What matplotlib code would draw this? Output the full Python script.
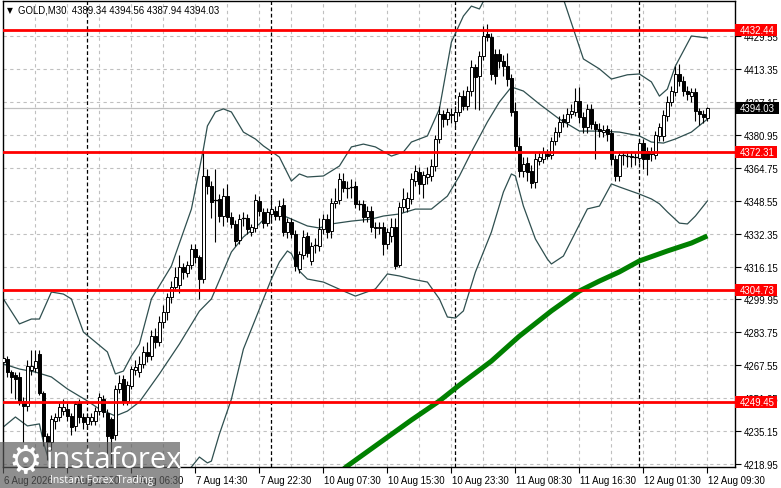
import matplotlib
matplotlib.use("Agg")
import matplotlib.pyplot as plt
import matplotlib.transforms as mtransforms
from matplotlib.patches import Rectangle

# ---------------- data ----------------
opens = [4269, 4270.5, 4264, 4263, 4262, 4250, 4247.5, 4265, 4266, 4273,
         4254, 4232.7, 4229.8, 4240, 4242, 4245, 4246, 4242.5, 4237.5, 4249.5,
         4242, 4238.5, 4240, 4240, 4245, 4251, 4244, 4241, 4233, 4256,
         4261, 4250, 4257.5, 4265, 4264, 4268, 4274, 4272, 4282, 4279,
         4289, 4294, 4301, 4306, 4307, 4316, 4313, 4317, 4325, 4321,
         4310, 4360.7, 4356, 4349, 4349.5, 4341, 4351, 4340.5, 4337, 4329,
         4340, 4340, 4333, 4335, 4348.5, 4343, 4337.5, 4342, 4343.5, 4341,
         4346.5, 4333, 4338, 4332, 4315, 4322, 4331, 4319, 4326.5, 4326,
         4334.6, 4339.5, 4333.5, 4347.4, 4349, 4358, 4355, 4355.5, 4355.8, 4347,
         4347, 4340.5, 4343.5, 4335.6, 4335, 4335.6, 4327.2, 4331, 4335.6, 4317,
         4345.4, 4345, 4349.4, 4358, 4362.7, 4356.8, 4360, 4360.5, 4365.6, 4378.9,
         4391.2, 4388.7, 4390.5, 4387.7, 4392.2, 4400, 4395.1, 4402.5, 4414.3, 4410,
         4419.7, 4430.6, 4429.1, 4420.7, 4420.7, 4417.3, 4414.8, 4408.9, 4392.7, 4375.5,
         4363.2, 4367, 4363.2, 4357.7, 4368, 4369, 4371.5, 4371, 4377.9, 4382.3,
         4388.7, 4387.3, 4391.2, 4392.2, 4397.6, 4389.7, 4384.8, 4393.7, 4386.3, 4384,
         4382.5, 4383.8, 4382, 4369.1, 4360.7, 4371, 4370.5, 4370.7, 4369.8, 4369.5,
         4376.9, 4373, 4371.5, 4371, 4380.4, 4380.4, 4390.2, 4397.1, 4402, 4410.9,
         4407.4, 4402.5, 4400, 4402, 4392.7, 4391.2, 4389.34]
highs = [4272, 4272, 4265, 4264, 4264, 4252, 4270, 4275, 4275, 4275,
         4255, 4234, 4243, 4244, 4249, 4251, 4249, 4244, 4250, 4251,
         4244, 4244, 4244, 4247, 4254, 4253, 4246, 4242, 4258, 4263,
         4263, 4260, 4267, 4270, 4272, 4277, 4279, 4285, 4286, 4292,
         4297, 4303, 4309, 4316, 4322, 4318, 4319, 4327, 4327, 4322,
         4372.5, 4364, 4358, 4364, 4352, 4355, 4357, 4343, 4339, 4342,
         4343, 4342, 4337, 4352, 4351, 4345, 4345, 4350, 4346, 4349,
         4350, 4340, 4340, 4334, 4324, 4334, 4333, 4328, 4330, 4340,
         4342, 4342, 4350, 4355, 4362, 4362, 4358, 4359, 4358, 4349,
         4349, 4346, 4346, 4338, 4338, 4338, 4335, 4340, 4340, 4348,
         4355, 4353, 4362, 4366, 4365, 4363, 4365, 4369, 4381, 4395,
         4393, 4394, 4394, 4395, 4402, 4403, 4405, 4418, 4416, 4422,
         4434.5, 4435.5, 4431, 4423, 4423, 4420, 4421, 4411, 4397, 4380,
         4370, 4370, 4366, 4372, 4373, 4375, 4374, 4380, 4385, 4390,
         4391, 4394, 4396, 4404, 4404.5, 4392, 4396, 4396, 4388, 4387,
         4386, 4386, 4384, 4371, 4373, 4373, 4373, 4373, 4372, 4379,
         4379, 4375, 4375, 4383, 4387, 4393, 4400, 4405, 4415, 4415.8,
         4410, 4405, 4404, 4404, 4394, 4393, 4394.56]
lows = [4266, 4262, 4254, 4251, 4248, 4230, 4245, 4263, 4264, 4253,
        4228, 4221, 4226, 4236, 4240, 4243, 4240, 4233, 4235, 4239,
        4236, 4236, 4238, 4238, 4243, 4242, 4222, 4219, 4231, 4254,
        4248, 4248, 4256, 4263, 4262, 4266, 4269, 4270, 4276, 4277,
        4286, 4290, 4298, 4304, 4303, 4310, 4311, 4315, 4318, 4300,
        4308, 4352, 4340, 4328, 4338, 4336, 4338, 4335, 4326, 4327,
        4336, 4332, 4331, 4333, 4341, 4335, 4336, 4338, 4339, 4339,
        4331, 4330, 4330, 4314, 4313, 4320, 4321, 4317, 4323, 4324,
        4332, 4330, 4330, 4345, 4347, 4353, 4350, 4350, 4345, 4344,
        4338, 4338, 4333, 4330, 4332, 4322, 4325, 4328, 4315, 4316,
        4343, 4343, 4347, 4356, 4352, 4350, 4357, 4358, 4363, 4377,
        4385, 4386, 4387, 4385, 4390, 4393, 4393, 4400, 4393.7, 4393,
        4418, 4427, 4408, 4406, 4414, 4410, 4405, 4390, 4373, 4360,
        4360, 4358, 4355, 4355, 4366, 4367, 4369, 4369, 4376, 4380,
        4385, 4385, 4389, 4390, 4387, 4382, 4382, 4384, 4369, 4380,
        4380, 4378, 4366, 4358, 4358, 4366, 4365, 4365, 4366, 4367,
        4364, 4361, 4368, 4369, 4378, 4378, 4388, 4395, 4400, 4405,
        4400, 4398, 4397, 4388, 4386, 4387, 4387.94]
closes = [4271, 4264, 4262, 4261, 4249.5, 4247.5, 4267, 4267, 4269.5, 4254,
          4232.7, 4229.8, 4241, 4242, 4247, 4247, 4242.5, 4237, 4248.5, 4242,
          4239.5, 4242, 4242, 4245, 4252, 4244.5, 4232.7, 4232, 4255.9, 4259,
          4250, 4258, 4265.7, 4266.5, 4268, 4274, 4272, 4282, 4279, 4289,
          4294, 4301, 4306, 4311, 4316, 4313.5, 4317, 4325, 4321, 4310,
          4360.7, 4355.8, 4348, 4349, 4341, 4351, 4340.5, 4337, 4328.7, 4339.5,
          4339.5, 4334.5, 4335.5, 4349, 4343.5, 4337.5, 4343, 4344.5, 4341, 4346,
          4333, 4338, 4332, 4316.4, 4322.3, 4330.7, 4323, 4326.3, 4326, 4334.6,
          4339.5, 4333, 4347.4, 4348.4, 4359, 4355, 4355.3, 4355.8, 4347, 4346.5,
          4340.5, 4343.5, 4335.6, 4335, 4335.6, 4327.2, 4333, 4335.6, 4316.4, 4345.4,
          4349.4, 4349.9, 4359.2, 4363, 4356.8, 4361, 4361.7, 4365.6, 4378.9, 4391.2,
          4388.7, 4392.2, 4391.2, 4392.2, 4400, 4395.1, 4402.5, 4414.3, 4409.4, 4419.7,
          4429.6, 4429.1, 4410.9, 4409.9, 4417.3, 4414.8, 4408.4, 4392.2, 4375.5, 4363.2,
          4366.6, 4362.7, 4357.3, 4369.1, 4370, 4372.5, 4370.5, 4377.9, 4382.3, 4387.3,
          4387.3, 4391.2, 4392.7, 4397.6, 4389.7, 4384.8, 4393.7, 4386.3, 4383.8, 4383,
          4383.5, 4381.4, 4369.1, 4360.7, 4371, 4370.5, 4370.6, 4369.8, 4369.5, 4376.9,
          4369.1, 4369.1, 4372.5, 4380.9, 4384.8, 4390.7, 4397.1, 4402.5, 4410.9, 4407.4,
          4402.5, 4401, 4402, 4392.7, 4391.2, 4389.7, 4394.03]

# Bollinger bands
ub_bars = [0, 4, 7, 9, 12, 15, 17, 20, 23, 26, 28, 30, 32, 34, 37, 42, 47, 50, 51, 53,
           55, 57, 60, 63, 65, 69, 72, 74, 76, 80, 84, 87, 90, 93, 97, 100, 102, 106, 109,
           112, 115, 117, 119, 121, 127, 134, 140, 145, 149, 152, 156, 159, 162, 164, 166,
           168, 172, 176]
ub_vals = [4300.2, 4287.9, 4290.3, 4290.3, 4303.6, 4302.6, 4300.2, 4283.9, 4279.0, 4274.1,
           4263.3, 4264.7, 4272.1, 4278.0, 4300.2, 4316.4, 4344.4, 4374.0, 4385.3, 4392.2,
           4393.7, 4392.2, 4382.3, 4378.9, 4375.5, 4370.0, 4358.2, 4361.7, 4360.2, 4360.7,
           4365.6, 4375.0, 4376.4, 4375.0, 4370.5, 4372.5, 4377.4, 4380.4, 4393.7, 4426.6,
           4439.4, 4444.3, 4442.9, 4450.3, 4462.0, 4460.0, 4447.8, 4418.3, 4413.4, 4408.4,
           4410.5, 4410.9, 4407.0, 4400.0, 4403.5, 4414.8, 4429.6, 4428.6]
mb_bars = [0, 4, 8, 12, 16, 21, 24, 28, 31, 34, 39, 44, 49, 52, 57, 60, 64, 67, 69, 72,
           76, 79, 82, 87, 92, 95, 99, 103, 107, 111, 114, 117, 121, 124, 127, 130, 134,
           139, 144, 149, 154, 159, 162, 165, 168, 172, 176]
mb_vals = [4268.2, 4265.7, 4264.2, 4261.8, 4255.9, 4250.0, 4246.0, 4242.6, 4245.0, 4249.5,
           4263.3, 4278.0, 4294.2, 4300.2, 4323.3, 4330.7, 4337.1, 4343.4, 4342.0, 4339.5,
           4336.1, 4335.1, 4337.1, 4338.5, 4339.5, 4341.0, 4342.0, 4344.4, 4344.4, 4350.8,
           4360.7, 4372.5, 4387.3, 4397.1, 4404.5, 4402.5, 4396.1, 4388.7, 4382.8, 4382.8,
           4382.3, 4380.4, 4377.4, 4376.9, 4378.9, 4382.3, 4388.7]
lb_bars = [0, 3, 6, 9, 10, 12, 19, 29, 42, 47, 49, 51, 52, 54, 57, 60, 64, 66, 67, 69,
           71, 72, 74, 76, 80, 85, 88, 93, 96, 99, 102, 106, 109, 111, 113, 115, 118, 122,
           125, 127, 128, 130, 133, 136, 137, 140, 146, 149, 152, 154, 159, 162, 164, 166,
           169, 171, 173, 176]
lb_vals = [4237.2, 4242.1, 4237.7, 4238.7, 4229.8, 4216.5, 4201.7, 4191.9, 4206.7, 4217.5,
           4222.4, 4219.5, 4220.4, 4233.7, 4250.9, 4275.5, 4295.2, 4305.1, 4310.0, 4318.4,
           4323.8, 4322.5, 4313.9, 4310.0, 4308.5, 4304.1, 4301.6, 4305.1, 4312.5, 4311.5,
           4310.0, 4308.5, 4300.2, 4291.3, 4290.8, 4294.3, 4313.4, 4333.1, 4352.8, 4361.7,
           4360.7, 4345.9, 4329.7, 4319.8, 4317.4, 4321.3, 4344.5, 4345.9, 4356.8, 4355.3,
           4351.8, 4349.4, 4347.0, 4343.0, 4337.5, 4337.1, 4341.0, 4348.4]
# moving average (green)
ma_bars = [82, 86, 94, 102, 109, 114, 122, 129, 137, 144, 149, 154, 159, 166, 172, 176]
ma_vals = [4211.6, 4218.0, 4229.3, 4240.6, 4250.0, 4257.8, 4269.6, 4281.9, 4294.3, 4304.1,
           4309.0, 4313.5, 4318.9, 4323.8, 4327.7, 4331.2]

x_tick_bars = [0, 16, 32, 48, 64, 80, 96, 112, 128, 144, 160, 176]
x_tick_labels = ["6 Aug 2026", "6 Aug 22:30", "7 Aug 06:30", "7 Aug 14:30", "7 Aug 22:30",
                 "10 Aug 07:30", "10 Aug 15:30", "10 Aug 23:30", "11 Aug 08:30",
                 "11 Aug 16:30", "12 Aug 01:30", "12 Aug 09:30"]
y_ticks = [4218.95, 4235.15, 4251.35, 4267.55, 4283.75, 4299.95, 4316.15, 4332.35,
           4348.55, 4364.75, 4380.95, 4397.15, 4413.35, 4429.55]
levels = [4432.44, 4372.31, 4304.73, 4249.45]
last_price = 4394.03
day_sep_bars = [21, 67, 113, 159]
title_text = "GOLD,M30  4389.34 4394.56 4387.94 4394.03"

# ---------------- figure ----------------
W, H = 781, 489
fig = plt.figure(figsize=(W / 100, H / 100), dpi=100)
fig.patch.set_facecolor("white")
ax = fig.add_axes([3 / W, 21 / H, 732 / W, 466 / H])
ax.set_facecolor("white")
ax.set_xlim(-0.1, 182.9)
ax.set_ylim(4217.49, 4446.81)

FONT = "Liberation Sans"
FS = 6.9

# grid
for b in range(8, 183, 8):
    ax.axvline(b, color="#c0c0c0", lw=0.8, ls=(0, (3, 3)), zorder=0)
for yv in y_ticks:
    ax.axhline(yv, color="#c0c0c0", lw=0.8, ls=(0, (3, 3)), zorder=0)
for b in day_sep_bars:
    ax.axvline(b, color="black", lw=0.9, ls=(0, (3, 2)), zorder=0.5)
ax.axhline(last_price, color="#c0c0c0", lw=0.9, zorder=0.6)

# indicators
ax.plot(ub_bars, ub_vals, color="#2f4f4f", lw=0.9, zorder=1)
ax.plot(mb_bars, mb_vals, color="#2f4f4f", lw=0.9, zorder=1)
ax.plot(lb_bars, lb_vals, color="#2f4f4f", lw=0.9, zorder=1)
ax.plot(ma_bars, ma_vals, color="#008000", lw=3.6, zorder=1.5, solid_capstyle="butt")

# candles
idx = list(range(len(closes)))
ax.vlines(idx, lows, highs, color="black", lw=0.8, zorder=2)
bw = 0.72
for i in idx:
    o, c = opens[i], closes[i]
    lo, hi = min(o, c), max(o, c)
    if hi - lo < 0.6:
        ax.plot([i - bw / 2, i + bw / 2], [o, o], color="black", lw=0.9, zorder=3)
    else:
        fc = "white" if c >= o else "black"
        ax.add_patch(Rectangle((i - bw / 2, lo), bw, hi - lo, facecolor=fc,
                               edgecolor="black", lw=0.7, zorder=3))

# support / resistance levels
for lv in levels:
    ax.axhline(lv, color="#ff0000", lw=2.0, zorder=5)

# axes styling
for s in ax.spines.values():
    s.set_color("black")
    s.set_linewidth(1.0)
ax.yaxis.tick_right()
ax.set_yticks(y_ticks)
ax.set_yticklabels([f"{v:.2f}" for v in y_ticks], fontsize=FS, family=FONT)
ax.tick_params(axis="y", length=4, width=0.8, pad=2, colors="black")
ax.set_xticks(x_tick_bars)
ax.set_xticklabels(x_tick_labels, fontsize=FS, family=FONT, ha="left")
ax.tick_params(axis="x", length=4, width=0.8, pad=2, colors="black")
for lab in ax.get_xticklabels():
    lab.set_transform(lab.get_transform() + mtransforms.ScaledTranslation(1 / 100, 0, fig.dpi_scale_trans))

# price boxes on the right axis
bt = mtransforms.blended_transform_factory(ax.transAxes, ax.transData)
bw_ax = 42 / 732
bh = 12 / 2.032
for lv in levels:
    ax.add_patch(Rectangle((1.0, lv - bh / 2), bw_ax, bh, transform=bt, facecolor="#ff0000",
                           edgecolor="none", clip_on=False, zorder=10))
    ax.text(1.0 + 5 / 732, lv, f"{lv:.2f}", transform=bt, color="white", fontsize=FS,
            family=FONT, va="center", ha="left", clip_on=False, zorder=11)
ax.add_patch(Rectangle((1.0, last_price - bh / 2), bw_ax + 2 / 732, bh, transform=bt,
                       facecolor="black", edgecolor="none", clip_on=False, zorder=10))
ax.text(1.0 + 5 / 732, last_price, f"{last_price:.2f}", transform=bt, color="white",
        fontsize=FS, family=FONT, va="center", ha="left", clip_on=False, zorder=11)

# title
fig.text(7 / W, 1 - 10.5 / H, "\u25bc", fontsize=5.5, color="black", va="center", ha="left",
         family="DejaVu Sans")
fig.text(18 / W, 1 - 10.5 / H, title_text, fontsize=FS, color="black", va="center",
         ha="left", family=FONT)

# watermark logo
fig.add_artist(Rectangle((0, 0), 180 / W, 46 / H, transform=fig.transFigure,
                         facecolor="#5a5a5a", alpha=0.68, edgecolor="none", zorder=20))
fig.text(25 / W, 1 - 463 / H, "\u2699", fontsize=27, color="white", va="center",
         ha="center", family="DejaVu Sans", zorder=21)
fig.text(46 / W, 1 - 461 / H, "instaforex", fontsize=21, color="white", va="center",
         ha="left", family="Open Sans", zorder=21)
fig.text(50 / W, 1 - 481 / H, "Instant Forex Trading", fontsize=7.5, color="white",
         va="center", ha="left", family="Open Sans", zorder=21)

fig.savefig("out.png", dpi=100, facecolor="white")
